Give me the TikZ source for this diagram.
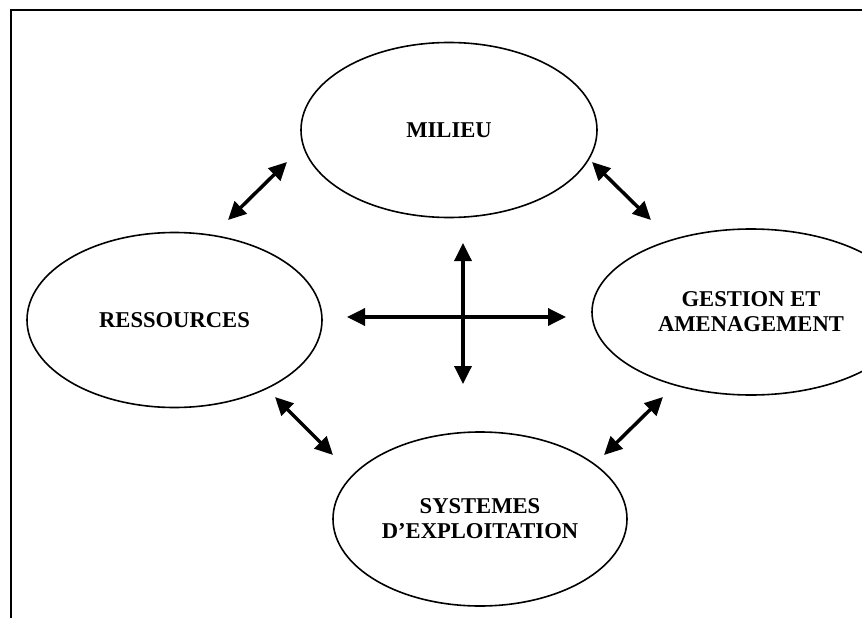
\documentclass[tikz,border=0pt]{standalone}
\usepackage{fontspec}
\setmainfont{Liberation Serif}
\usetikzlibrary{shapes.geometric,arrows.meta}
\begin{document}
\begin{tikzpicture}[x=1pt,y=-1pt,
  bubble/.style={ellipse,draw,line width=1.6pt,inner sep=0pt,align=center,
    font=\fontsize{22.6}{25}\selectfont\bfseries},
  link/.style={{Triangle[length=18pt,width=17pt]}-{Triangle[length=18pt,width=17pt]},line width=3.5pt},
  frameline/.style={line width=2.4pt}]
\clip (0,0) rectangle (862,618);
\useasboundingbox (0,0) rectangle (862,618);
% frame
\coordinate (fc) at (11,10);
\coordinate (fr) at (870,10);
\coordinate (fb) at (11,630);
\draw[frameline] (fr) -- (fc) -- (fb);
% ellipses
\node[bubble,minimum width=296pt,minimum height=175pt] (milieu) at (449,130) {MILIEU};
\node[bubble,minimum width=295pt,minimum height=175pt] (res) at (174.5,320) {RESSOURCES};
\node[bubble,minimum width=318pt,minimum height=166pt] (gest) at (751,312) {GESTION ET\\AMENAGEMENT};
\node[bubble,minimum width=294pt,minimum height=174pt] (sys) at (480,519) {SYSTEMES\\D'EXPLOITATION};
% arrow end points
\coordinate (mr1) at (228,220); \coordinate (mr2) at (287,162);
\coordinate (mg1) at (592,162); \coordinate (mg2) at (651,220);
\coordinate (rs1) at (275,397); \coordinate (rs2) at (333,455);
\coordinate (gs1) at (663,397); \coordinate (gs2) at (604,455);
\coordinate (ct) at (463,243); \coordinate (cb) at (463,384);
\coordinate (cl) at (347,317); \coordinate (cr) at (566,317);
\draw[link] (mr1) -- (mr2);
\draw[link] (mg1) -- (mg2);
\draw[link] (rs1) -- (rs2);
\draw[link] (gs1) -- (gs2);
\draw[link] (ct) -- (cb);
\draw[link] (cl) -- (cr);
\end{tikzpicture}
\end{document}
